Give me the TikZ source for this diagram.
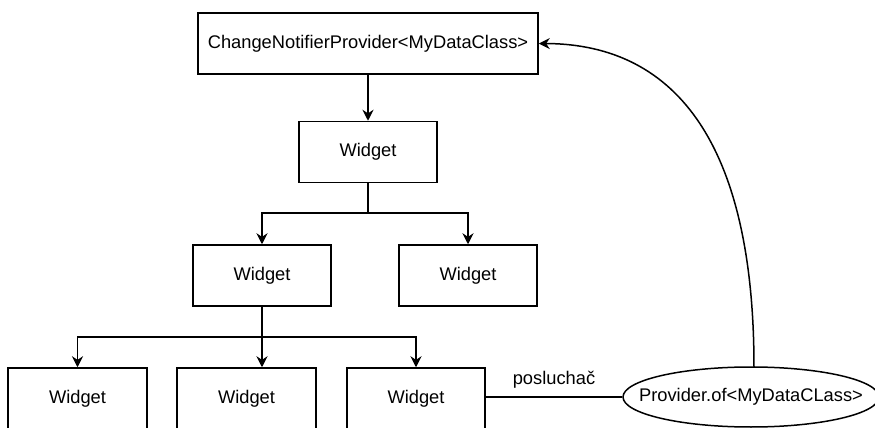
\documentclass[tikz,border=0pt]{standalone}
\usepackage{fontspec}
\setmainfont{Liberation Sans}
\usetikzlibrary{arrows.meta,shapes.geometric}
\begin{document}
\begin{tikzpicture}[x=0.5pt,y=-0.5pt,
  every node/.style={font=\fontsize{9.15}{11}\selectfont},
  box/.style={draw,line width=0.75pt,inner sep=0pt,minimum height=30.5pt},
  wbox/.style={box,minimum width=69pt},
  oval/.style={draw,line width=0.75pt,ellipse,inner sep=0pt,minimum width=128pt,minimum height=30pt},
  conn/.style={line width=0.75pt},
  arr/.style={conn,-{Stealth[length=5.5pt,width=5.5pt,inset=1.8pt]}}]
\clip (0,0) rectangle (875,428);
\node[box,minimum width=170pt] (top) at (368,43.5) {ChangeNotifierProvider<MyDataClass>};
\node[wbox] (w2) at (368,152) {Widget};
\node[wbox] (wl) at (262,275.5) {Widget};
\node[wbox] (wr) at (468,275.5) {Widget};
\node[wbox,minimum width=69.5pt] (b1) at (77.5,398.5) {Widget};
\node[wbox,minimum width=69.5pt] (b2) at (246.5,398.5) {Widget};
\node[wbox] (b3) at (416,398.5) {Widget};
\node[oval] (prov) at (751,397) {};
\node (provtext) at (prov.center) {Provider.of<MyDataCLass>};
\coordinate (j1) at (368,213);
\coordinate (j2) at (262,337);
\coordinate (ps) at (754,367);
\draw[arr] (top) -- (w2);
\draw[conn] (w2.south) -- (j1);
\draw[arr] (j1) -| (wl.north);
\draw[arr] (j1) -| (wr.north);
\draw[conn] (wl.south) -- (j2);
\draw[arr] (j2) -| (b1.north);
\draw[arr] (j2) -| (b3.north);
\draw[arr] (j2) -- (j2 |- b2.north);
\draw[conn] (b3.east |- prov.west) -- node[above=0.5pt] {posluchač} (prov.west);
\draw[arr] (ps) .. controls (754,150) and (680,44) .. (top.east);
\end{tikzpicture}
\end{document}
